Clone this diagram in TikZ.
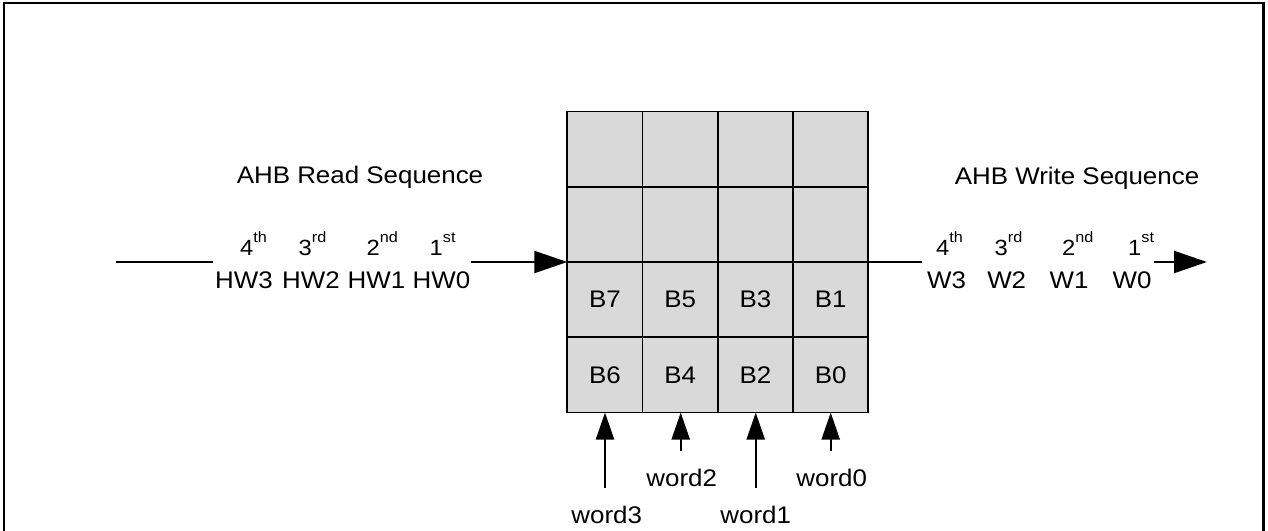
\documentclass[tikz,border=0pt]{standalone}
\usepackage{fontspec}
\setmainfont[FakeStretch=1.08]{Liberation Sans}
\usetikzlibrary{arrows.meta}
\definecolor{cellgray}{RGB}{217,217,217}
\newcommand\myord[2]{#1\raisebox{13pt}{\fontsize{15}{15}\selectfont #2}}
\begin{document}
\begin{tikzpicture}[x=1pt,y=-1pt,
  cell/.style={draw,fill=cellgray,line width=1.8pt,minimum width=75.25pt,minimum height=75.25pt,
    inner sep=0pt,outer sep=0pt,anchor=north west,font=\fontsize{24}{28}\selectfont},
  lbl/.style={inner sep=0pt,anchor=base,font=\fontsize{24}{28}\selectfont},
  ord/.style={inner sep=0pt,anchor=base west,font=\fontsize{22}{22}\selectfont},
  wire/.style={line width=2.2pt},
  harrow/.style={wire,-{Triangle[length=33pt,width=22pt]}},
  varrow/.style={wire,-{Triangle[length=27pt,width=18pt]}},
  frame/.style={line width=2.6pt}]
\useasboundingbox (0,0) rectangle (1268,530);
\clip (0,0) rectangle (1268,530);
\draw[frame] (4,3) rectangle (1263.5,580);

% grid of cells
\node[cell] (r1c1) at (567.3,111.5) {};
\node[cell] (r1c2) at (642.55,111.5) {};
\node[cell] (r1c3) at (717.8,111.5) {};
\node[cell] (r1c4) at (793.05,111.5) {};
\node[cell] (r2c1) at (567.3,186.75) {};
\node[cell] (r2c2) at (642.55,186.75) {};
\node[cell] (r2c3) at (717.8,186.75) {};
\node[cell] (r2c4) at (793.05,186.75) {};
\node[cell] (r3c1) at (567.3,262) {B7};
\node[cell] (r3c2) at (642.55,262) {B5};
\node[cell] (r3c3) at (717.8,262) {B3};
\node[cell] (r3c4) at (793.05,262) {B1};
\node[cell] (r4c1) at (567.3,337.25) {B6};
\node[cell] (r4c2) at (642.55,337.25) {B4};
\node[cell] (r4c3) at (717.8,337.25) {B2};
\node[cell] (r4c4) at (793.05,337.25) {B0};

% read side
\node[lbl] (rdtitle) at (360,183.5) {AHB Read Sequence};
\node[ord] (ol4) at (240,255) {\myord{4}{th}};
\node[ord] (ol3) at (298.5,255) {\myord{3}{rd}};
\node[ord] (ol2) at (366.5,255) {\myord{2}{nd}};
\node[ord] (ol1) at (429.5,255) {\myord{1}{st}};
\node[lbl] (hw3) at (244,288) {HW3};
\node[lbl] (hw2) at (311,288) {HW2};
\node[lbl] (hw1) at (376.5,288) {HW1};
\node[lbl] (hw0) at (441.5,288) {HW0};
\coordinate (rdA) at (116,262);
\coordinate (rdB) at (213,262);
\coordinate (rdC) at (471,262);
\draw[wire] (rdA) -- (rdB);
\draw[harrow] (rdC) -- (r3c1.north west);

% write side
\node[lbl] (wrtitle) at (1077,184.3) {AHB Write Sequence};
\node[ord] (ow4) at (936,255) {\myord{4}{th}};
\node[ord] (ow3) at (994.5,255) {\myord{3}{rd}};
\node[ord] (ow2) at (1062,255) {\myord{2}{nd}};
\node[ord] (ow1) at (1128,255) {\myord{1}{st}};
\node[lbl] (w3) at (946.5,288) {W3};
\node[lbl] (w2) at (1006.7,288) {W2};
\node[lbl] (w1) at (1069,288) {W1};
\node[lbl] (w0) at (1132,288) {W0};
\coordinate (wrB) at (922,262);
\coordinate (wrC) at (1154,262);
\coordinate (wrD) at (1207,262);
\draw[wire] (r3c4.north east) -- (wrB);
\draw[harrow] (wrC) -- (wrD);

% word inputs
\coordinate (wd3) at (605,488);
\coordinate (wd2) at (680.7,450.7);
\coordinate (wd1) at (755.7,488);
\coordinate (wd0) at (830.7,450.7);
\draw[varrow] (wd3) -- (wd3 |- r4c1.south);
\draw[varrow] (wd2) -- (wd2 |- r4c2.south);
\draw[varrow] (wd1) -- (wd1 |- r4c3.south);
\draw[varrow] (wd0) -- (wd0 |- r4c4.south);
\node[lbl] (lw3) at (606.7,523.3) {word3};
\node[lbl] (lw2) at (681.7,486.7) {word2};
\node[lbl] (lw1) at (755.7,523.3) {word1};
\node[lbl] (lw0) at (831.7,486.7) {word0};
\end{tikzpicture}
\end{document}
